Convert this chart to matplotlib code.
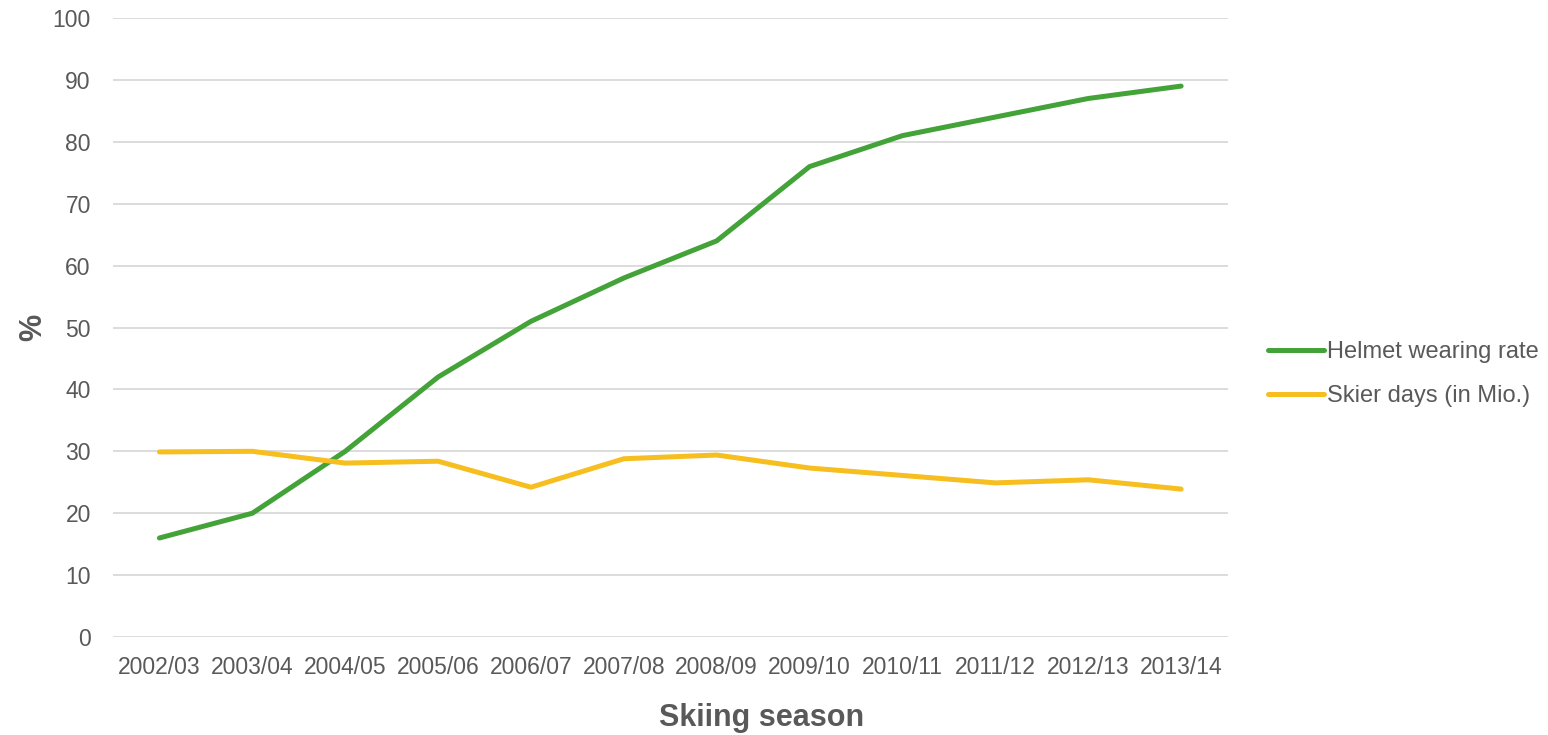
import matplotlib
matplotlib.use("Agg")
import matplotlib.pyplot as plt

seasons = ["2002/03", "2003/04", "2004/05", "2005/06", "2006/07", "2007/08",
           "2008/09", "2009/10", "2010/11", "2011/12", "2012/13", "2013/14"]
helmet_rate = [16, 20, 30, 42, 51, 58, 64, 76, 81, 84, 87, 89]
skier_days = [29.9, 30.0, 28.1, 28.4, 24.2, 28.8, 29.4, 27.3, 26.1, 24.9, 25.4, 23.9]
y_ticks = list(range(0, 101, 10))

plt.rcParams["font.family"] = ["Liberation Sans", "DejaVu Sans"]
text_color = "#595959"

fig = plt.figure(figsize=(15.48, 7.35), dpi=100)
ax = fig.add_axes([0.073, 0.1333, 0.72, 0.8422])

x = list(range(len(seasons)))
ax.plot(x, helmet_rate, color="#43A339", lw=3.6, solid_capstyle="round",
        solid_joinstyle="round", label="Helmet wearing rate", zorder=3)
ax.plot(x, skier_days, color="#F6BE1F", lw=3.6, solid_capstyle="round",
        solid_joinstyle="round", label="Skier days (in Mio.)", zorder=3)

ax.set_xlim(-0.5, len(seasons) - 0.5)
ax.set_ylim(0, 100)
ax.set_yticks(y_ticks)
ax.set_xticks(x)
ax.set_xticklabels(seasons)
ax.yaxis.grid(True, color="#D9D9D9", lw=1.3)
ax.set_axisbelow(True)
for s in ax.spines.values():
    s.set_visible(False)
ax.tick_params(axis="both", length=0, labelsize=16.5, colors=text_color)
ax.tick_params(axis="x", pad=14)
ax.tick_params(axis="y", pad=16)

ax.set_xlabel("Skiing season", fontsize=22, fontweight="bold", color=text_color)
ax.xaxis.set_label_coords(0.582, -0.107)
ax.set_ylabel("%", fontsize=22, fontweight="bold", color=text_color)
ax.yaxis.set_label_coords(-0.0583, 0.5)

fig.legend(loc="center left", bbox_to_anchor=(0.819, 0.491), frameon=False,
           fontsize=17, handlelength=2.4, handletextpad=0.1, labelspacing=0.95,
           borderaxespad=0, borderpad=0, labelcolor=text_color)

fig.savefig("out.png", dpi=100)
